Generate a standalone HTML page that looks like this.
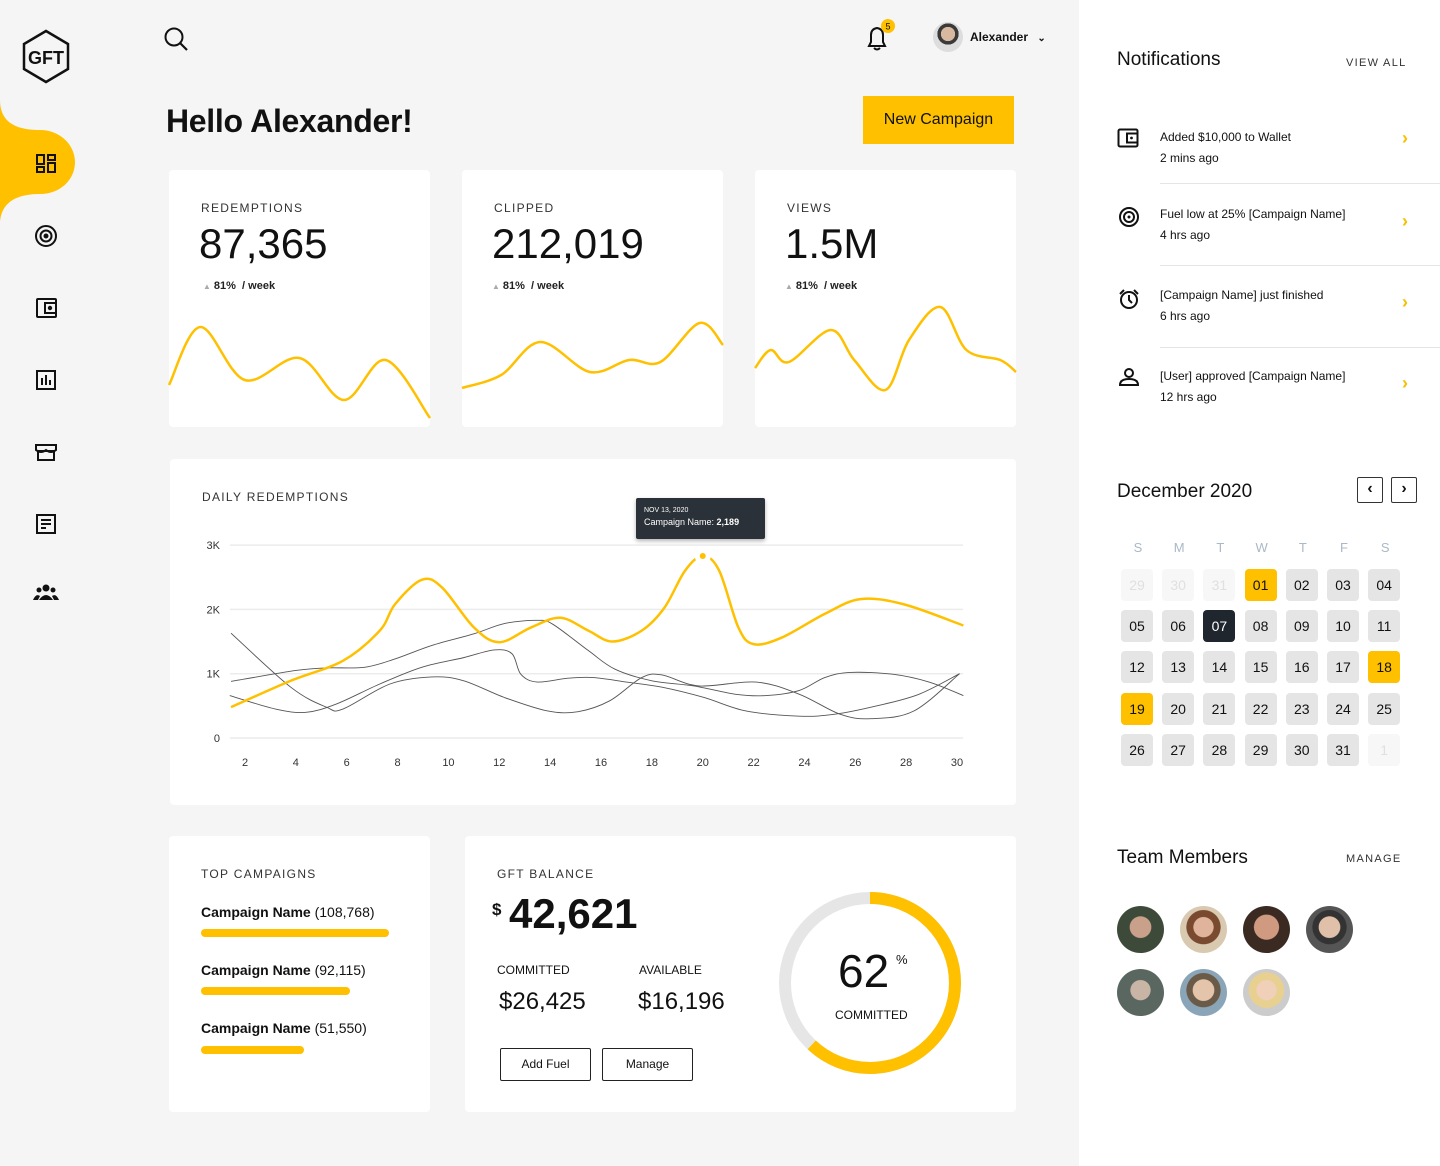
<!DOCTYPE html>
<html><head><meta charset="utf-8">
<style>
*{box-sizing:border-box;margin:0;padding:0}
body{width:1440px;height:1166px;overflow:hidden;background:#f5f5f5;font-family:"Liberation Sans",Arial,sans-serif;color:#111;position:relative}
.abs{position:absolute}
.card{position:absolute;background:#fff;border-radius:4px}
.lbl{font-size:12px;letter-spacing:1.3px;color:#333}
.big{font-size:42px;font-weight:500;color:#111}
.trend{font-size:11px;font-weight:bold;color:#222}
.trend i{font-style:normal;color:#aaa;font-size:8px;margin-right:3px}
.notif{position:absolute;left:1117px;width:323px;height:80px}
.notif .t{position:absolute;left:43px;font-size:12px;color:#111}
.notif .chev{position:absolute;left:285px;color:#f5c000;font-size:18px;font-weight:bold}
.day{position:absolute;width:32px;height:32px;border-radius:4px;background:#e5e5e5;font-size:14px;text-align:center;line-height:32px;color:#111}
.dow{position:absolute;width:32px;text-align:center;font-size:13px;color:#aab8c8}
.btn{position:absolute;border:1.5px solid #222;border-radius:2px;background:#fff;font-size:12px;text-align:center}
.av{position:absolute;width:47px;height:47px;border-radius:50%}
</style></head><body>

<svg class="abs" style="left:0;top:0" width="120" height="650">
  <path d="M0,100 C0,125 20,130 40,130 C60,130 75,145 75,162 C75,180 60,194 40,194 C20,194 0,200 0,225 Z" fill="#ffc000"/>
  <g>
    <polygon points="46,31 68,44 68,69 46,82 24,69 24,44" fill="none" stroke="#111" stroke-width="2.5"/>
    <text x="46" y="64" text-anchor="middle" font-family="Liberation Sans" font-weight="bold" font-size="18" fill="#111">GFT</text>
  </g>
  <g fill="none" stroke="#111" stroke-width="2"><rect x="37" y="155" width="7" height="9"/><rect x="37" y="167" width="7" height="5"/><rect x="48" y="155" width="7" height="5"/><rect x="48" y="163" width="7" height="9"/></g>
  <g fill="none" stroke="#111" stroke-width="2"><circle cx="46" cy="236" r="10"/><circle cx="46" cy="236" r="5.5"/><circle cx="46" cy="236" r="1.5" fill="#111"/></g>
  <g fill="none" stroke="#111" stroke-width="2"><rect x="37" y="299" width="19" height="18" rx="1"/><rect x="45" y="303" width="11" height="10"/><circle cx="50" cy="308" r="1.2" fill="#111"/></g>
  <g fill="none" stroke="#111" stroke-width="2"><rect x="37" y="371" width="18" height="18"/><line x1="42" y1="378" x2="42" y2="385"/><line x1="46" y1="375" x2="46" y2="385"/><line x1="50" y1="380" x2="50" y2="385"/></g>
  <g fill="none" stroke="#111" stroke-width="2"><path d="M36,445 L56,445 L56,450 Q51,454 46,450 Q41,454 36,450 Z"/><rect x="38" y="451" width="16" height="9"/></g>
  <g fill="none" stroke="#111" stroke-width="2"><rect x="37" y="515" width="18" height="18"/><line x1="41" y1="520" x2="51" y2="520"/><line x1="41" y1="524" x2="51" y2="524"/><line x1="41" y1="528" x2="46" y2="528"/></g>
  <g fill="#111"><circle cx="46" cy="588" r="3.5"/><circle cx="39" cy="590" r="2.5"/><circle cx="53" cy="590" r="2.5"/><path d="M39,600 Q46,590 53,600 Z"/><path d="M33,600 Q36,593 40,596 L38,600Z"/><path d="M59,600 Q56,593 52,596 L54,600Z"/></g>
</svg>

<svg class="abs" style="left:162px;top:26px" width="28" height="28"><circle cx="12" cy="11" r="8.5" fill="none" stroke="#111" stroke-width="2"/><line x1="18" y1="17" x2="25" y2="24" stroke="#111" stroke-width="2.2"/></svg>
<svg class="abs" style="left:862px;top:18px" width="40" height="34"><path d="M7,28 L23,28 L21,24 L21,17 Q21,11 15,10 Q9,11 9,17 L9,24 Z" fill="none" stroke="#111" stroke-width="2"/><path d="M12,30 Q15,33 18,30" fill="none" stroke="#111" stroke-width="2"/><circle cx="26" cy="8" r="7" fill="#ffc000"/><text x="26" y="11.5" text-anchor="middle" font-size="9" fill="#111">5</text></svg>
<div class="abs" style="left:933px;top:22px;width:30px;height:30px;border-radius:50%;background:radial-gradient(circle at 50% 40%,#d9b8a0 0 30%,#3a3a3a 31% 45%,#ddd 46%)"></div>
<div class="abs" style="left:970px;top:30px;font-size:12px;font-weight:bold">Alexander <span style="margin-left:6px;font-size:10px">&#8964;</span></div>

<div class="abs" style="left:166px;top:103px;font-size:32px;font-weight:bold;letter-spacing:-0.3px">Hello Alexander!</div>
<div class="abs" style="left:863px;top:96px;width:151px;height:48px;background:#ffc000;font-size:16px;text-align:center;line-height:48px">New Campaign</div>

<div class="card" style="left:169px;top:170px;width:261px;height:257px">
  <div class="abs lbl" style="left:32px;top:31px">REDEMPTIONS</div>
  <div class="abs big" style="left:30px;top:50px">87,365</div>
  <div class="abs trend" style="left:34px;top:110px"><i>▲</i>81% &nbsp;/ week</div>
</div>
<div class="card" style="left:462px;top:170px;width:261px;height:257px">
  <div class="abs lbl" style="left:32px;top:31px">CLIPPED</div>
  <div class="abs big" style="left:30px;top:50px">212,019</div>
  <div class="abs trend" style="left:30px;top:110px"><i>▲</i>81% &nbsp;/ week</div>
</div>
<div class="card" style="left:755px;top:170px;width:261px;height:257px">
  <div class="abs lbl" style="left:32px;top:31px">VIEWS</div>
  <div class="abs big" style="left:30px;top:50px">1.5M</div>
  <div class="abs trend" style="left:30px;top:110px"><i>▲</i>81% &nbsp;/ week</div>
</div>
<svg id="spark" class="abs" style="left:0;top:0;pointer-events:none" width="1080" height="440"></svg>

<div class="card" style="left:170px;top:459px;width:846px;height:346px">
  <div class="abs lbl" style="left:32px;top:31px">DAILY REDEMPTIONS</div>
</div>
<svg id="chart" class="abs" style="left:0;top:0" width="1080" height="810"></svg>
<div class="abs" style="left:636px;top:498px;width:129px;height:41px;background:#2b3138;border-radius:2px;box-shadow:0 2px 4px rgba(0,0,0,.3);color:#fff;padding:9px 8px">
  <div style="font-size:7px">NOV 13, 2020</div>
  <div style="font-size:9px;margin-top:3px">Campaign Name: <b>2,189</b></div>
</div>

<div class="card" style="left:169px;top:836px;width:261px;height:276px">
  <div class="abs lbl" style="left:32px;top:31px">TOP CAMPAIGNS</div>
  <div class="abs" style="left:32px;top:68px;font-size:14px"><b>Campaign Name</b> (108,768)</div>
  <div class="abs" style="left:32px;top:93px;width:188px;height:8px;border-radius:4px;background:#ffc000"></div>
  <div class="abs" style="left:32px;top:126px;font-size:14px"><b>Campaign Name</b> (92,115)</div>
  <div class="abs" style="left:32px;top:151px;width:149px;height:8px;border-radius:4px;background:#ffc000"></div>
  <div class="abs" style="left:32px;top:184px;font-size:14px"><b>Campaign Name</b> (51,550)</div>
  <div class="abs" style="left:32px;top:210px;width:103px;height:8px;border-radius:4px;background:#ffc000"></div>
</div>

<div class="card" style="left:465px;top:836px;width:551px;height:276px">
  <div class="abs lbl" style="left:32px;top:31px">GFT BALANCE</div>
  <div class="abs" style="left:27px;top:64px;font-size:17px;font-weight:bold">$</div>
  <div class="abs" style="left:44px;top:54px;font-size:42px;font-weight:bold">42,621</div>
  <div class="abs" style="left:32px;top:127px;font-size:12px">COMMITTED</div>
  <div class="abs" style="left:174px;top:127px;font-size:12px">AVAILABLE</div>
  <div class="abs" style="left:34px;top:152px;font-size:24px;font-weight:500">$26,425</div>
  <div class="abs" style="left:173px;top:152px;font-size:24px;font-weight:500">$16,196</div>
  <div class="btn" style="left:35px;top:212px;width:91px;height:33px;line-height:31px">Add Fuel</div>
  <div class="btn" style="left:137px;top:212px;width:91px;height:33px;line-height:31px">Manage</div>
</div>
<svg id="donut" class="abs" style="left:770px;top:883px" width="200" height="200"></svg>
<div class="abs" style="left:838px;top:944px;font-size:46px;font-weight:300">62</div>
<div class="abs" style="left:896px;top:952px;font-size:13px">%</div>
<div class="abs" style="left:835px;top:1008px;font-size:12px">COMMITTED</div>

<div class="abs" style="left:1079px;top:0;width:361px;height:1166px;background:#fff"></div>
<div class="abs" style="left:1117px;top:49px;font-size:19px">Notifications</div>
<div class="abs" style="left:1346px;top:57px;font-size:11px;letter-spacing:1.3px;color:#333">VIEW ALL</div>

<div class="notif" style="top:118px">
  <svg class="abs" style="left:0;top:10px" width="24" height="22"><rect x="1.5" y="1.5" width="19" height="17" rx="1.5" fill="none" stroke="#111" stroke-width="2"/><rect x="10" y="5.5" width="10.5" height="9" fill="none" stroke="#111" stroke-width="2"/><circle cx="14.5" cy="10" r="1.4" fill="#111"/></svg>
  <div class="t" style="top:12px">Added $10,000 to Wallet</div><div class="t" style="top:33px">2 mins ago</div><div class="chev" style="top:10px">›</div>
  <div class="abs" style="left:43px;top:65px;width:280px;height:1px;background:#e5e5e5"></div></div>
<div class="notif" style="top:195px">
  <svg class="abs" style="left:0;top:12px" width="24" height="24"><circle cx="12" cy="10" r="9" fill="none" stroke="#111" stroke-width="2"/><circle cx="12" cy="10" r="5" fill="none" stroke="#111" stroke-width="2"/><circle cx="12" cy="10" r="1.5" fill="#111"/></svg>
  <div class="t" style="top:12px">Fuel low at 25% [Campaign Name]</div><div class="t" style="top:33px">4 hrs ago</div><div class="chev" style="top:16px">›</div>
  <div class="abs" style="left:43px;top:70px;width:280px;height:1px;background:#e5e5e5"></div></div>
<div class="notif" style="top:276px">
  <svg class="abs" style="left:0;top:12px" width="24" height="24"><circle cx="12" cy="12" r="8" fill="none" stroke="#111" stroke-width="2"/><path d="M12,7 L12,12 L15,15" fill="none" stroke="#111" stroke-width="2"/><path d="M3,6 L7,2 M21,6 L17,2" stroke="#111" stroke-width="2"/></svg>
  <div class="t" style="top:12px">[Campaign Name] just finished</div><div class="t" style="top:33px">6 hrs ago</div><div class="chev" style="top:16px">›</div>
  <div class="abs" style="left:43px;top:71px;width:280px;height:1px;background:#e5e5e5"></div></div>
<div class="notif" style="top:357px">
  <svg class="abs" style="left:0;top:10px" width="24" height="22"><circle cx="12" cy="6" r="4" fill="none" stroke="#111" stroke-width="2"/><path d="M3,18 Q3,12 12,12 Q21,12 21,18 Z" fill="none" stroke="#111" stroke-width="2"/></svg>
  <div class="t" style="top:12px">[User] approved [Campaign Name]</div><div class="t" style="top:33px">12 hrs ago</div><div class="chev" style="top:16px">›</div></div>

<div class="abs" style="left:1117px;top:481px;font-size:19px">December 2020</div>
<div class="abs" style="left:1357px;top:477px;width:26px;height:26px;border:1.5px solid #333;border-radius:2px;text-align:center;line-height:22px;font-weight:bold">‹</div>
<div class="abs" style="left:1391px;top:477px;width:26px;height:26px;border:1.5px solid #333;border-radius:2px;text-align:center;line-height:22px;font-weight:bold">›</div>
<div id="cal"></div>

<div class="abs" style="left:1117px;top:847px;font-size:19px">Team Members</div>
<div class="abs" style="left:1346px;top:853px;font-size:11px;letter-spacing:1.3px;color:#333">MANAGE</div>
<div class="av" style="left:1117px;top:906px;background:radial-gradient(circle at 50% 45%,#c9a08a 0 30%,#3d4a3a 32%)"></div>
<div class="av" style="left:1180px;top:906px;background:radial-gradient(circle at 50% 45%,#e0b49c 0 28%,#7a4a30 30% 48%,#d8c9b0 50%)"></div>
<div class="av" style="left:1243px;top:906px;background:radial-gradient(circle at 50% 45%,#d09a80 0 35%,#3a2a22 37%)"></div>
<div class="av" style="left:1306px;top:906px;background:radial-gradient(circle at 50% 45%,#e0c0a8 0 30%,#333 32% 48%,#555 50%)"></div>
<div class="av" style="left:1117px;top:969px;background:radial-gradient(circle at 50% 45%,#c8b5a5 0 28%,#5a6660 30%)"></div>
<div class="av" style="left:1180px;top:969px;background:radial-gradient(circle at 50% 45%,#e5c4ac 0 30%,#6a5a48 32% 48%,#8aa4b8 50%)"></div>
<div class="av" style="left:1243px;top:969px;background:radial-gradient(circle at 50% 45%,#f0d0b8 0 28%,#e8d090 30% 50%,#ccc 52%)"></div>

<script>
const xTickLabels = [2,4,6,8,10,12,14,16,18,20,22,24,26,28,30];
const yTickLabels = ["0","1K","2K","3K"];
const yTickValues = [0,1,2,3];
const yellowDays = [1.45,3.8,5.85,7.3,7.9,8.95,9.75,11,12,13.25,14.4,15.5,16.45,17.6,18.5,19.3,20,20.65,21.4,22,23.1,24.8,26.2,27.9,30.25];
const yellowVals = [0.48,0.89,1.2,1.67,2.08,2.46,2.34,1.72,1.49,1.72,1.87,1.67,1.5,1.67,2.03,2.6,2.83,2.6,1.72,1.46,1.56,1.93,2.16,2.08,1.75];
const gray1Days = [1.45,3.8,5.2,5.85,7.7,9.35,10.6,12.2,13.9,15.1,16.35,17.6,18.4,19.85,22.1,23.8,25.4,26.6,28.3,30.1];
const gray1Vals = [1.63,0.79,0.48,0.45,0.84,0.95,0.89,0.63,0.42,0.41,0.58,0.94,0.98,0.81,0.87,0.68,0.37,0.3,0.42,1.0];
const gray2Days = [1.45,4,5.2,6.7,7.9,9.35,11,12.2,13.5,14.1,15.5,16.55,18,19.65,21.3,22.5,23.8,24.8,25.8,27.5,28.9,30.25];
const gray2Vals = [0.88,1.05,1.09,1.1,1.23,1.44,1.62,1.78,1.83,1.77,1.36,1.07,0.89,0.81,0.68,0.66,0.74,0.94,1.02,0.99,0.87,0.66];
const gray3Days = [1.4,3.2,4.4,5.6,7.3,8.95,10.6,11.8,12.5,12.85,13.5,14.7,15.7,17,18.4,20.05,21.7,23.8,25.2,26.85,28.5,30.1];
const gray3Vals = [0.66,0.45,0.4,0.53,0.84,1.1,1.25,1.37,1.31,0.99,0.87,0.93,0.94,0.87,0.79,0.63,0.42,0.34,0.37,0.5,0.68,1.0];
const highlightDay = 20, highlightVal = 2.83;

const spark1T = [0,0.12,0.29,0.5,0.67,0.83,1];
const spark1V = [45,103,50,72,30,70,12];
const spark2T = [0,0.15,0.3,0.49,0.64,0.76,0.91,1];
const spark2V = [42,55,88,58,70,68,107,85];
const spark3T = [0,0.06,0.13,0.29,0.38,0.5,0.59,0.71,0.81,0.94,1];
const spark3V = [62,80,68,100,70,40,90,123,80,70,58];

const committedPct = 62;

const dows = ["S","M","T","W","T","F","S"];
const calDays = ["29","30","31","01","02","03","04","05","06","07","08","09","10","11","12","13","14","15","16","17","18","19","20","21","22","23","24","25","26","27","28","29","30","31","1"];
const calMuted = [0,1,2,34];
const calYellow = [3,20,21];
const calDark = [9];

const NS="http://www.w3.org/2000/svg";
function mk(tag,attrs,parent){const e=document.createElementNS(NS,tag);for(const k in attrs)e.setAttribute(k,attrs[k]);parent.appendChild(e);return e;}
function smooth(pts){let d="M"+pts[0][0]+","+pts[0][1];for(let i=0;i<pts.length-1;i++){const p0=pts[i-1]||pts[i],p1=pts[i],p2=pts[i+1],p3=pts[i+2]||p2;const c1=[p1[0]+(p2[0]-p0[0])/6,p1[1]+(p2[1]-p0[1])/6],c2=[p2[0]-(p3[0]-p1[0])/6,p2[1]-(p3[1]-p1[1])/6];d+=" C"+c1[0]+","+c1[1]+" "+c2[0]+","+c2[1]+" "+p2[0]+","+p2[1];}return d;}

const chart=document.getElementById('chart');
const X=d=>245+(d-2)*25.43, Y=v=>738-v*64.3;
yTickValues.forEach((v,i)=>{
  const g=mk('line',{x1:230,x2:963,y1:Y(v),y2:Y(v),stroke:'#ececec','stroke-width':1.5},chart);
  
  
  const t=mk('text',{x:220,y:Y(v)+4,'text-anchor':'end','font-size':11,fill:'#333','font-family':'Liberation Sans'},chart);t.textContent=yTickLabels[i];
  
  
});
xTickLabels.forEach(d=>{const t=mk('text',{x:X(d),y:766,'text-anchor':'middle','font-size':11,fill:'#333','font-family':'Liberation Sans'},chart);t.textContent=d;
  
  });
[[gray1Days,gray1Vals],[gray2Days,gray2Vals],[gray3Days,gray3Vals]].forEach(([ds,vs])=>{
  const p=mk('path',{d:smooth(ds.map((d,j)=>[X(d),Y(vs[j])])),fill:'none',stroke:'#555','stroke-width':0.9},chart);
  
  
});
const yl=mk('path',{d:smooth(yellowDays.map((d,j)=>[X(d),Y(yellowVals[j])])),fill:'none',stroke:'#ffc000','stroke-width':2.5},chart);


const hc=mk('circle',{cx:X(highlightDay),cy:Y(highlightVal),r:8,fill:'#fff'},chart);


const hp=mk('circle',{cx:X(highlightDay),cy:Y(highlightVal),r:3,fill:'#ffc000'},chart);



const sp=document.getElementById('spark');
[[169,spark1T,spark1V],[462,spark2T,spark2V],[755,spark3T,spark3V]].forEach(([x0,ts,vs])=>{
  const p=mk('path',{d:smooth(ts.map((t,j)=>[x0+t*261,430-vs[j]])),fill:'none',stroke:'#ffc000','stroke-width':2.5},sp);
  
  
});

const dn=document.getElementById('donut');
const R=85,C=2*Math.PI*R;
const bg=mk('circle',{cx:100,cy:100,r:R,fill:'none',stroke:'#e6e6e6','stroke-width':12},dn);


const arc=mk('circle',{cx:100,cy:100,r:R,fill:'none',stroke:'#ffc000','stroke-width':12,'stroke-dasharray':(C*committedPct/100)+' '+C,transform:'rotate(-90 100 100)'},dn);



const cal=document.getElementById('cal');
dows.forEach((d,i)=>{const e=document.createElement('div');e.className='dow';e.style.left=(1122+i*41.2)+'px';e.style.top='540px';e.textContent=d;
  
  cal.appendChild(e);});
calDays.forEach((d,i)=>{const e=document.createElement('div');e.className='day';e.style.left=(1121+(i%7)*41.2)+'px';e.style.top=(569+Math.floor(i/7)*41.2)+'px';e.textContent=d;
  if(calMuted.includes(i)){e.style.background='#f7f7f7';e.style.color='#e0e0e0';}
  if(calYellow.includes(i)){e.style.background='#ffc000';}
  if(calDark.includes(i)){e.style.background='#1f262d';e.style.color='#fff';}
  
  cal.appendChild(e);});
</script>
</body></html>
